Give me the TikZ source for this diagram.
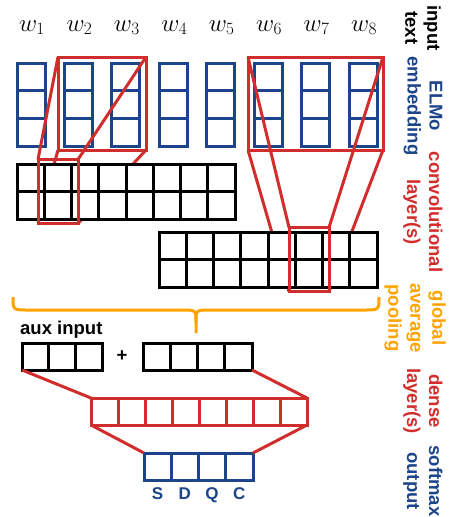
\documentclass[tikz,border=0pt]{standalone}
\usepackage{fontspec}
\setmainfont{Liberation Sans}
\usepackage{tikz}

\definecolor{elmoblue}{RGB}{28,68,138}
\definecolor{convred}{RGB}{210,45,45}
\definecolor{poolorange}{RGB}{255,163,0}

\tikzset{
  cell/.style={line width=3pt, fill=white},
  filter/.style={draw=convred, line width=3pt},
  slot/.style={rectangle, inner sep=0pt, outer sep=0pt},
  sidelbl/.style={font=\bfseries\fontsize{18.5}{22}\selectfont, align=center, rotate=-90, inner sep=0pt},
  vlbl/.style={font=\bfseries\fontsize{18.5}{22}\selectfont, inner sep=0pt}
}

\begin{document}
\begin{tikzpicture}[x=1pt, y=-1pt]
            \useasboundingbox (0,0) rectangle (453,517);
            % input words and ELMo vectors
            \foreach \i in {1,...,8}
                \node[font=\fontsize{25}{29}\selectfont, anchor=base, inner sep=0pt] (w\i) at ({32+47.43*(\i-1)},31) {$w_{\i}$};
            \foreach \i in {1,...,8}
                \foreach \j in {0,1,2}
                    \draw[cell, draw=elmoblue, fill=none] ({17+47.43*(\i-1)},{63+27.67*\j}) rectangle ++(28,27.67);
            % filters
            \node[slot, filter, minimum width=88, minimum height=93] (fleft) at (102,103.5) {};
            \node[slot, filter, minimum width=135, minimum height=93] (fright) at (315.5,103.5) {};
            \node[slot, minimum width=40, minimum height=64] (sleft) at (58,191.5) {};
            \node[slot, minimum width=40, minimum height=64] (sright) at (309,259.5) {};
            \draw[filter] (fleft.north west) -- (sleft.north west) (fleft.north east) -- (sleft.north east)
                          (fleft.south west) -- (sleft.south west) (fleft.south east) -- (sleft.south east);
            \draw[filter] (fright.north west) -- (sright.north west) (fright.north east) -- (sright.north east)
                          (fright.south west) -- (sright.south west) (fright.south east) -- (sright.south east);
            % convolutional layers
            \foreach \i in {0,...,7}
                \foreach \j in {0,1} {
                    \draw[cell] ({17+27.25*\i},{164+27.5*\j}) rectangle ++(27.25,27.5);
                    \draw[cell] ({159+27.25*\i},{232+27.5*\j}) rectangle ++(27.25,27.5);
                }
            \draw[filter] (sleft.north west) rectangle (sleft.south east);
            \draw[filter] (sright.north west) rectangle (sright.south east);
            % pooling brace
            \draw[poolorange, line width=3pt] (13,297) .. controls (13,310) .. (28,310) -- (182,310)
                .. controls (196,310) .. (196,322) -- (196,333);
            \draw[poolorange, line width=3pt] (379,297) .. controls (379,310) .. (364,310) -- (210,310)
                .. controls (196,310) .. (196,322);
            % aux input and pooled vector
            \node[vlbl, anchor=base west] (auxlbl) at (20,334) {aux input};
            \foreach \i in {0,1,2}
                \draw[cell] ({22+26.67*\i},343) rectangle ++(26.67,27);
            \node[vlbl] (plus) at (122,356) {+};
            \foreach \i in {0,...,3}
                \draw[cell] ({143+27.25*\i},343) rectangle ++(27.25,27);
            \coordinate (auxsw) at (22,370);
            \coordinate (poolse) at (252,370);
            % dense and softmax
            \foreach \i in {0,...,7}
                \draw[cell, draw=convred] ({91+27*\i},398) rectangle ++(27,27);
            \coordinate (densenw) at (91,398);
            \coordinate (densene) at (307,398);
            \coordinate (densesw) at (91,425);
            \coordinate (densese) at (307,425);
            \foreach \i in {0,...,3}
                \draw[cell, draw=elmoblue] ({144+27.25*\i},453) rectangle ++(27.25,27);
            \coordinate (outnw) at (144,453);
            \coordinate (outne) at (253,453);
            \draw[filter] (auxsw) -- (densenw) (poolse) -- (densene);
            \draw[filter] (densesw) -- (outnw) (densese) -- (outne);
            \foreach \c [count=\i from 0] in {S,D,Q,C}
                \node[vlbl, font=\bfseries\fontsize{17}{20}\selectfont, text=elmoblue, anchor=base] (out\c) at ({157.6+27.25*\i},499) {\c};
            % side labels
            \node[sidelbl] (ltext) at (423,28) {input\\text};
            \node[sidelbl, text=elmoblue] (lelmo) at (423,106) {ELMo\\embedding};
            \node[sidelbl, text=convred] (lconv) at (423,212) {convolutional\\layer(s)};
            \node[sidelbl, text=poolorange] (lpool) at (415,318) {global\\average\\pooling};
            \node[sidelbl, text=convred] (ldense) at (423,401) {dense\\layer(s)};
            \node[sidelbl, text=elmoblue] (lsoft) at (423,481) {softmax\\output};
        \end{tikzpicture}
\end{document}
